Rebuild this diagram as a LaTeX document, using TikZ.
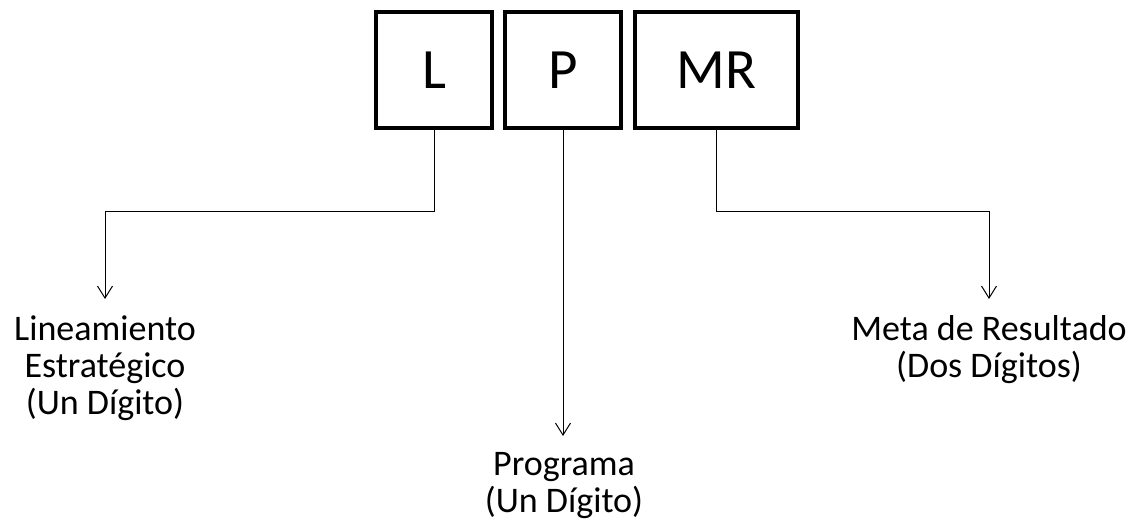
\documentclass[tikz,border=0pt]{standalone}
\usepackage{fontspec}
\setmainfont{Carlito}
\usetikzlibrary{arrows.meta}
\tikzset{
  caja/.style={draw, line width=4pt, minimum height=116pt, inner sep=0pt, font=\fontsize{57}{57}\selectfont},
  texto/.style={align=center, inner sep=0pt, anchor=north, font=\fontsize{36}{37}\selectfont},
  flecha/.style={line width=1pt, -{Straight Barb[length=12pt,width=15pt]}}
}
\begin{document}
\begin{tikzpicture}[x=1pt,y=-1pt]
        \useasboundingbox (0,0) rectangle (1142,529);
        % cajas
        \node[caja, minimum width=116pt] (lbox) at (434,70) {L};
        \node[caja, minimum width=116pt] (pbox) at (563,70) {P};
        \node[caja, minimum width=163pt] (mrbox) at (716.5,70) {MR};
        % textos
        \node[texto] (lin) at (105,316) {Lineamiento\\Estratégico\\(Un Dígito)};
        \node[texto] (prog) at (564,452) {Programa\\(Un Dígito)};
        \node[texto] (meta) at (989,315) {Meta de Resultado\\(Dos Dígitos)};
        % conectores
        \draw[flecha, shorten >=17pt] (lbox.south) -- ++(0,82) -| (lin.north);
        \draw[flecha, shorten >=16pt] (pbox.south) -- (prog.north -| pbox.south);
        \draw[flecha, shorten >=16pt] (mrbox.south) -- ++(0,82) -| (meta.north);
      \end{tikzpicture}
\end{document}
